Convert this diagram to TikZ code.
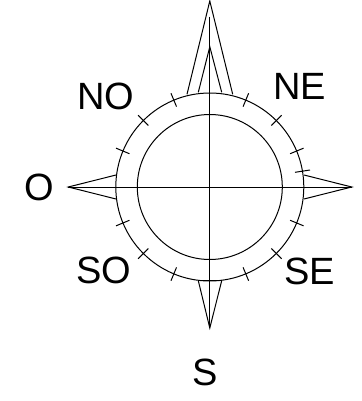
\documentclass[tikz,border=0pt]{standalone}
\usepackage{fontspec}
\usetikzlibrary{calc}
\setmainfont{Liberation Sans}
\begin{document}
\begin{tikzpicture}[x=1pt,y=-1pt,
  ln/.style={draw=black,line width=1pt,line join=miter},
  lbl/.style={inner sep=0pt,text=black,font=\fontsize{38}{38}\selectfont}]
\useasboundingbox[fill=white] (0,0) rectangle (361,401);
\coordinate (c) at (209.8,187);
% spikes
\draw[ln] (187,94.3) -- (209.8,1) -- (232.7,94.3);
\draw[ln] (198.3,92.3) -- (209.8,46.7) -- (221.7,92.3);
\draw[ln] (198.3,280.7) -- (209.8,328) -- (221.7,280.7);
\draw[ln] (116,175) -- (68.3,187) -- (116,199);
\draw[ln] (304,175) -- (351.7,187) -- (304,199);
\draw[ln] (198.3,280.7) -- (221.7,280.7);
% axes
\coordinate (n) at (209.8,16.7);
\coordinate (s) at (209.8,328);
\coordinate (w) at (68.3,187);
\coordinate (e) at (351.7,187);
\draw[ln] (n) -- (s);
\draw[ln] (w) -- (e);
% circles
\node[ln,circle,minimum size=188pt,inner sep=0pt] (outer) at (c) {};
\node[ln,circle,minimum size=145pt,inner sep=0pt] (inner) at (c) {};
% ticks
\foreach \a in {22.5,45,67.5,112.5,135,157.5,202.5,225,247.5,292.5,315,337.5}
  \draw[ln] ($(c)+(\a:87)$) -- ($(c)+(\a:101.5)$);
\draw[ln] (295,172.3) -- (310,170);
% labels
\node[lbl] (NO) at (105.5,96) {NO};
\node[lbl] (NE) at (299.5,86) {NE};
\node[lbl] (O) at (39,187.5) {O};
\node[lbl] (SO) at (104,270.7) {SO};
\node[lbl] (SE) at (309.5,271.5) {SE};
\node[lbl] (S) at (205,372) {S};
\end{tikzpicture}
\end{document}
